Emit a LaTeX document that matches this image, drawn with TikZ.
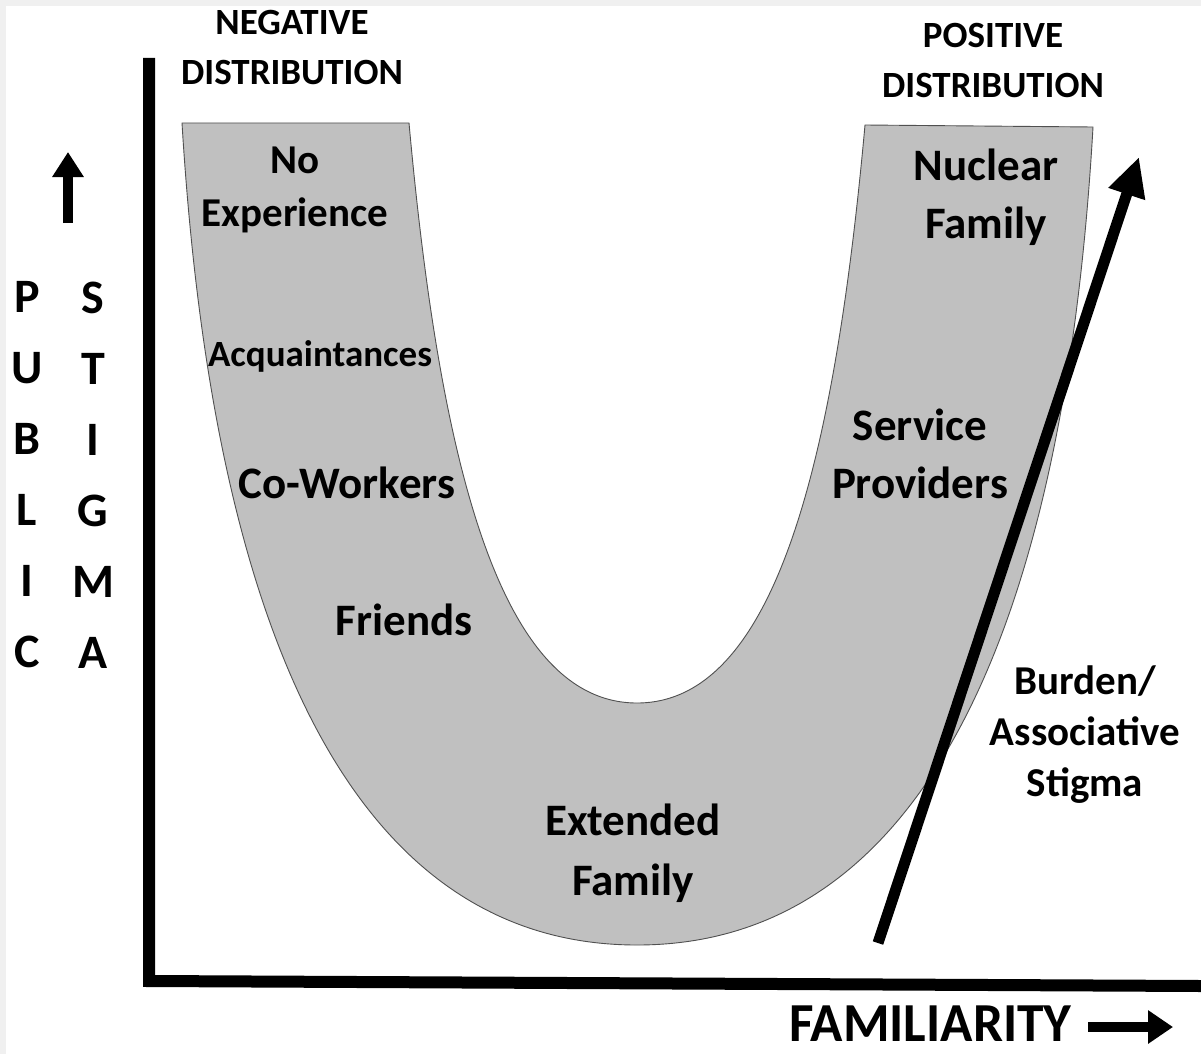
\documentclass[tikz,border=0pt]{standalone}
\usepackage{fontspec}
\setmainfont{Carlito}
\usetikzlibrary{arrows.meta}
\newcommand{\StigmaArrowType}{Triangle}
\newcommand{\Fs}[2]{\bfseries\fontsize{#1}{#2}\selectfont}
\definecolor{bandgray}{HTML}{C0C0C0}
\definecolor{edgegray}{HTML}{505050}
\definecolor{framegray}{HTML}{F0F0F0}

\begin{document}
\begin{tikzpicture}[x=1pt,y=-1pt,>=\StigmaArrowType,
		lbl/.style={inner sep=0pt,align=center,text=black},
		axis/.style={line width=12pt,line join=miter}]
				% frame
				\fill[framegray] (0,0) rectangle (1201,1054);
				\fill[white] (6,6) rectangle (1201,1054);
				\useasboundingbox (0,0) rectangle (1201,1054);
				% the U band
				\filldraw[fill=bandgray,draw=edgegray,line width=0.9pt]
					(182,123) -- (409,123)
					.. controls (439,453) and (497,703) .. (637,703)
					.. controls (777,703) and (835,455) .. (865,125)
					-- (1093,127)
					.. controls (1061,683) and (897,945) .. (637,945)
					.. controls (377,945) and (216,683) .. (182,123) -- cycle;
				% axes
				\draw[axis] (149,58) -- (149,981) -- (1201,986);
				% arrows
				\coordinate (upfoot) at (68,223);
				\coordinate (uptip) at (68,152);
				\coordinate (famfoot) at (1088,1027);
				\coordinate (famtip) at (1173,1027);
				\coordinate (burdenfoot) at (878,943);
				\coordinate (burdentip) at (1139,157);
				\draw[-{>[length=25pt,width=30pt]},line width=10pt] (upfoot) -- (uptip);
				\draw[-{>[length=25pt,width=32pt]},line width=10pt] (famfoot) -- (famtip);
				\draw[-{>[length=39pt,width=36pt]},line width=11pt] (burdenfoot) -- (burdentip);
				% labels
				\node[lbl,font=\Fs{37}{50}] (negdist) at (292,48) {NEGATIVE\\DISTRIBUTION};
				\node[lbl,font=\Fs{37}{50}] (posdist) at (993,61) {POSITIVE\\DISTRIBUTION};
				\node[lbl,font=\Fs{48}{71}] (public) at (27,475) {P\\U\\B\\L\\I\\C};
				\node[lbl,font=\Fs{48}{71}] (stigma) at (93,475) {S\\T\\I\\G\\M\\A};
				\node[lbl,font=\Fs{41}{53}] (noexp) at (295,190) {No\\Experience};
				\node[lbl,font=\Fs{37}{50}] (acq) at (320,356) {Acquaintances};
				\node[lbl,font=\Fs{45}{58}] (cowork) at (347,483) {Co-Workers};
				\node[lbl,font=\Fs{45}{58}] (friends) at (404,620) {Friends};
				\node[lbl,font=\Fs{45}{60}] (extfam) at (633,853) {Extended\\Family};
				\node[lbl,font=\Fs{45}{58}] (service) at (920,454) {Service\\Providers};
				\node[lbl,font=\Fs{45}{58}] (nucfam) at (986,197) {Nuclear\\Family};
				\node[lbl,font=\Fs{41}{51}] (burden) at (1085,735) {Burden/\\Associative\\Stigma};
				\node[lbl,font=\Fs{55}{60},anchor=west,xscale=0.97] (familiarity) at (789,1024) {FAMILIARITY};
		\end{tikzpicture}
\end{document}
